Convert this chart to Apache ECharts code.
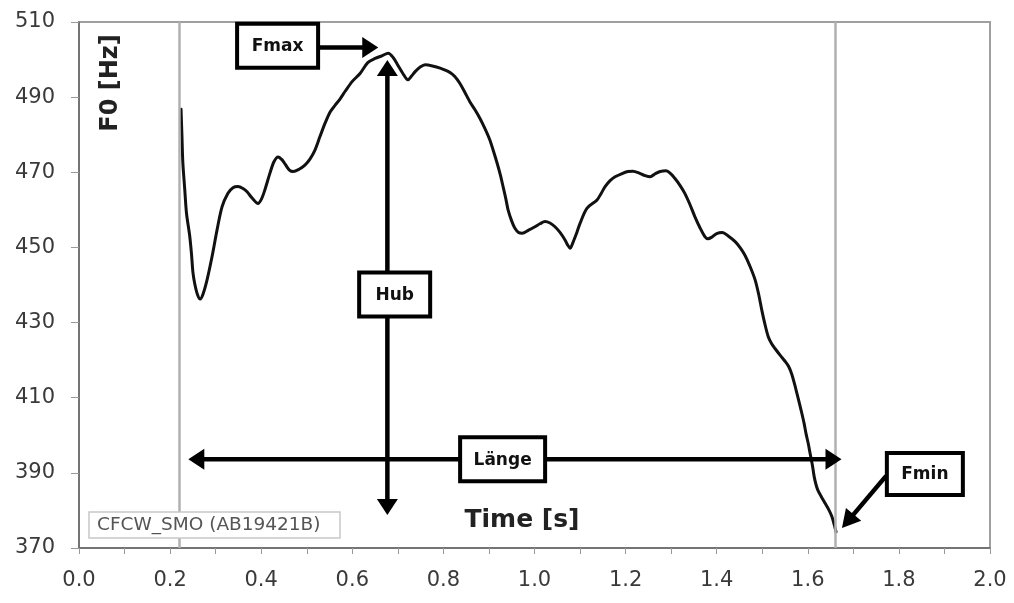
<!DOCTYPE html>
<html>
<head>
<meta charset="utf-8">
<title>F0 contour</title>
<script src="https://cdn.jsdelivr.net/npm/echarts@6/dist/echarts.min.js"></script>
<style>
  html, body { margin: 0; padding: 0; background: #ffffff; }
  #chart { width: 1014px; height: 603px; }
</style>
</head>
<body>
<div id="chart"></div>
<script>
// F0 contour (time in seconds, fundamental frequency in Hz)
const times = [
  0.224, 0.226, 0.228, 0.232, 0.236, 0.243, 0.247, 0.250, 0.254, 0.260,
  0.266, 0.272, 0.281, 0.292, 0.303, 0.314, 0.327, 0.338, 0.349, 0.360,
  0.369, 0.381, 0.393, 0.401, 0.408, 0.419, 0.428, 0.437, 0.446, 0.454,
  0.462, 0.470, 0.483, 0.496, 0.507, 0.518, 0.529, 0.540, 0.551, 0.562,
  0.573, 0.584, 0.600, 0.617, 0.634, 0.650, 0.665, 0.679, 0.690, 0.700,
  0.711, 0.722, 0.730, 0.738, 0.749, 0.760, 0.776, 0.793, 0.814, 0.825,
  0.836, 0.847, 0.858, 0.869, 0.880, 0.891, 0.902, 0.910, 0.918, 0.925,
  0.931, 0.937, 0.942, 0.950, 0.957, 0.965, 0.973, 0.987, 1.001, 1.012,
  1.023, 1.034, 1.045, 1.056, 1.067, 1.073, 1.078, 1.085, 1.093, 1.100,
  1.115, 1.137, 1.146, 1.155, 1.166, 1.177, 1.191, 1.205, 1.216, 1.230,
  1.243, 1.254, 1.265, 1.276, 1.289, 1.300, 1.308, 1.319, 1.330, 1.341,
  1.352, 1.363, 1.374, 1.381, 1.390, 1.400, 1.412, 1.426, 1.440, 1.451,
  1.462, 1.473, 1.484, 1.492, 1.499, 1.506, 1.513, 1.520, 1.528, 1.540,
  1.550, 1.558, 1.565, 1.571, 1.576, 1.582, 1.587, 1.592, 1.596, 1.601,
  1.605, 1.610, 1.614, 1.618, 1.622, 1.630, 1.638, 1.646, 1.653, 1.658,
  1.662
];
const f0 = [
  486.8, 479.7, 472.5, 465.7, 459.1, 453.1, 448.2, 443.5, 440.4, 437.5,
  436.3, 437.5, 441.3, 447.5, 454.6, 460.8, 464.4, 465.9, 466.2, 465.7,
  464.8, 463.0, 461.7, 463.0, 465.3, 469.7, 472.8, 474.1, 473.3, 471.9,
  470.6, 470.2, 470.8, 471.9, 473.5, 475.9, 479.5, 483.0, 486.0, 487.8,
  489.5, 491.5, 494.2, 496.3, 499.2, 500.3, 501.0, 501.7, 500.5, 498.5,
  496.3, 494.6, 495.6, 496.8, 498.0, 498.6, 498.3, 497.7, 496.6, 495.5,
  493.7, 491.3, 488.8, 486.7, 484.4, 481.7, 478.6, 475.6, 472.4, 469.3,
  466.2, 463.0, 460.0, 457.0, 455.1, 454.0, 453.8, 454.6, 455.5, 456.3,
  456.9, 456.5, 455.5, 454.0, 452.0, 450.6, 449.8, 451.5, 454.0, 456.4,
  460.4, 462.6, 464.3, 466.2, 467.8, 468.8, 469.6, 470.2, 470.3, 469.8,
  469.1, 468.8, 469.6, 470.2, 470.4, 469.5, 468.4, 466.6, 464.4, 461.5,
  458.2, 455.3, 452.9, 452.3, 452.8, 453.7, 454.0, 453.0, 451.6, 450.0,
  447.9, 445.0, 441.5, 437.6, 433.3, 429.5, 426.3, 424.5, 423.1, 421.2,
  419.7, 418.3, 416.2, 413.6, 411.2, 408.3, 405.8, 403.1, 400.5, 397.8,
  395.2, 392.1, 389.0, 386.9, 385.4, 383.6, 381.9, 380.2, 378.3, 376.2,
  374.3
];

// Start and end of the voiced segment
const boundaryTimes = [0.224, 1.662];

// Axis ranges
const xMin = 0, xMax = 2, xStep = 0.2;
const yMin = 370, yMax = 510, yStep = 20;

// Annotation labels and their anchor points [time, Hz]
const fmaxLabel = 'Fmax', fmaxBox = [0.436, 503.7], fmaxArrow = [[0.525, 503.2], [0.657, 503.2]];
const hubLabel = 'Hub', hubBox = [0.693, 437.5], hubArrow = [[0.677, 378.8], [0.677, 499.9]];
const laengeLabel = 'Länge', laengeBox = [0.930, 393.6], laengeArrow = [[0.240, 393.6], [1.674, 393.6]];
const fminLabel = 'Fmin', fminBox = [1.857, 389.7], fminArrow = [[1.772, 389.2], [1.675, 375.3]];
const speakerTag = 'CFCW_SMO (AB19421B)';
const xTitle = 'Time [s]';
const yTitle = 'F0 [Hz]';

const chart = echarts.init(document.getElementById('chart'), null, { renderer: 'canvas' });

const contour = times.map((t, i) => [t, f0[i]]);

chart.setOption({
  backgroundColor: '#ffffff',
  animation: false,
  grid: {
    left: 79, right: 24, top: 22, bottom: 55,
    show: true, borderColor: '#a0a0a0', borderWidth: 2, backgroundColor: '#ffffff'
  },
  xAxis: {
    type: 'value', min: xMin, max: xMax, interval: xStep,
    axisLine: { show: true, lineStyle: { color: '#666666', width: 1.5 } },
    axisTick: { show: true, length: 6, lineStyle: { color: '#999999', width: 1 } },
    minorTick: { show: true, splitNumber: 2, length: 6, lineStyle: { color: '#999999', width: 1 } },
    splitLine: { show: false },
    axisLabel: {
      margin: 22, color: '#3a3a3a', fontFamily: 'DejaVu Sans', fontSize: 21,
      formatter: v => v.toFixed(1)
    }
  },
  yAxis: {
    type: 'value', min: yMin, max: yMax, interval: yStep,
    axisLine: { show: true, lineStyle: { color: '#666666', width: 1.5 } },
    axisTick: { show: true, length: 8, lineStyle: { color: '#999999', width: 1 } },
    splitLine: { show: false },
    axisLabel: {
      margin: 24, color: '#3a3a3a', fontFamily: 'DejaVu Sans', fontSize: 21,
      formatter: v => String(v)
    }
  },
  series: [{
    type: 'line',
    data: contour,
    smooth: 0.3,
    showSymbol: false,
    symbol: 'none',
    lineStyle: { color: '#111111', width: 3, join: 'round', cap: 'round' },
    z: 3,
    markLine: {
      silent: true,
      symbol: ['none', 'none'],
      label: { show: false },
      lineStyle: { color: '#b0b0b0', width: 2.5, type: 'solid' },
      data: boundaryTimes.map(t => ({ xAxis: t }))
    }
  }]
});

// Annotation overlay: arrows and boxed labels placed at data coordinates
function px(p) { return chart.convertToPixel({ gridIndex: 0 }, p); }

function arrowParts(from, to, heads, opts) {
  const a = px(from), b = px(to);
  const dx = b[0] - a[0], dy = b[1] - a[1];
  const len = Math.hypot(dx, dy);
  const ux = dx / len, uy = dy / len;
  const nx = -uy, ny = ux;
  const hl = opts.headLen, hw = opts.headWidth / 2;
  const s = heads.start ? [a[0] + ux * hl * 0.8, a[1] + uy * hl * 0.8] : a;
  const e = heads.end ? [b[0] - ux * hl * 0.8, b[1] - uy * hl * 0.8] : b;
  const parts = [{
    type: 'line', z: 10,
    shape: { x1: s[0], y1: s[1], x2: e[0], y2: e[1] },
    style: { stroke: '#000000', lineWidth: opts.width }
  }];
  const head = (tip, dirx, diry) => ({
    type: 'polygon', z: 10,
    shape: { points: [
      tip,
      [tip[0] - dirx * hl + nx * hw, tip[1] - diry * hl + ny * hw],
      [tip[0] - dirx * hl - nx * hw, tip[1] - diry * hl - ny * hw]
    ] },
    style: { fill: '#000000' }
  });
  if (heads.end) parts.push(head(b, ux, uy));
  if (heads.start) parts.push(head(a, -ux, -uy));
  return parts;
}

function boxLabel(text, center, w, h) {
  const c = px(center);
  return {
    type: 'group', z: 20,
    children: [{
      type: 'rect', z: 20,
      shape: { x: c[0] - w / 2, y: c[1] - h / 2, width: w, height: h },
      style: { fill: '#ffffff', stroke: '#000000', lineWidth: 4 }
    }, {
      type: 'text', z: 21,
      x: c[0], y: c[1] + 1,
      style: {
        text: text, fill: '#111111', align: 'center', verticalAlign: 'middle',
        font: 'bold 17px "DejaVu Sans"'
      }
    }]
  };
}

function drawOverlay() {
  const arrowOpts = { width: 4.5, headLen: 16, headWidth: 21 };
  const elements = []
    .concat(arrowParts(fmaxArrow[0], fmaxArrow[1], { end: true }, arrowOpts))
    .concat(arrowParts(hubArrow[0], hubArrow[1], { start: true, end: true }, arrowOpts))
    .concat(arrowParts(laengeArrow[0], laengeArrow[1], { start: true, end: true }, arrowOpts))
    .concat(arrowParts(fminArrow[0], fminArrow[1], { end: true }, { width: 4.5, headLen: 18, headWidth: 20 }));

  elements.push(boxLabel(fmaxLabel, fmaxBox, 81, 44));
  elements.push(boxLabel(hubLabel, hubBox, 71, 44));
  elements.push(boxLabel(laengeLabel, laengeBox, 85, 44));
  elements.push(boxLabel(fminLabel, fminBox, 76, 42));

  // speaker / file tag in the lower-left corner of the plot
  elements.push({
    type: 'group', z: 15,
    children: [{
      type: 'rect', z: 15,
      shape: { x: 89, y: 512, width: 251, height: 26 },
      style: { fill: '#ffffff', stroke: '#c8c8c8', lineWidth: 1.5 }
    }, {
      type: 'text', z: 16, x: 97, y: 525.5,
      style: {
        text: speakerTag, fill: '#555555', verticalAlign: 'middle',
        font: '18.5px "DejaVu Sans"'
      }
    }]
  });

  // axis titles drawn inside the plot area
  elements.push({
    type: 'text', z: 16, x: 522, y: 520,
    style: {
      text: xTitle, fill: '#222222', align: 'center', verticalAlign: 'middle',
      font: 'bold 25px "DejaVu Sans"'
    }
  });
  elements.push({
    type: 'text', z: 16, x: 111, y: 83, rotation: Math.PI / 2,
    style: {
      text: yTitle, fill: '#222222', align: 'center', verticalAlign: 'middle',
      font: 'bold 24px "DejaVu Sans"'
    }
  });

  chart.setOption({ graphic: { elements: elements } });
}

drawOverlay();
</script>
</body>
</html>
